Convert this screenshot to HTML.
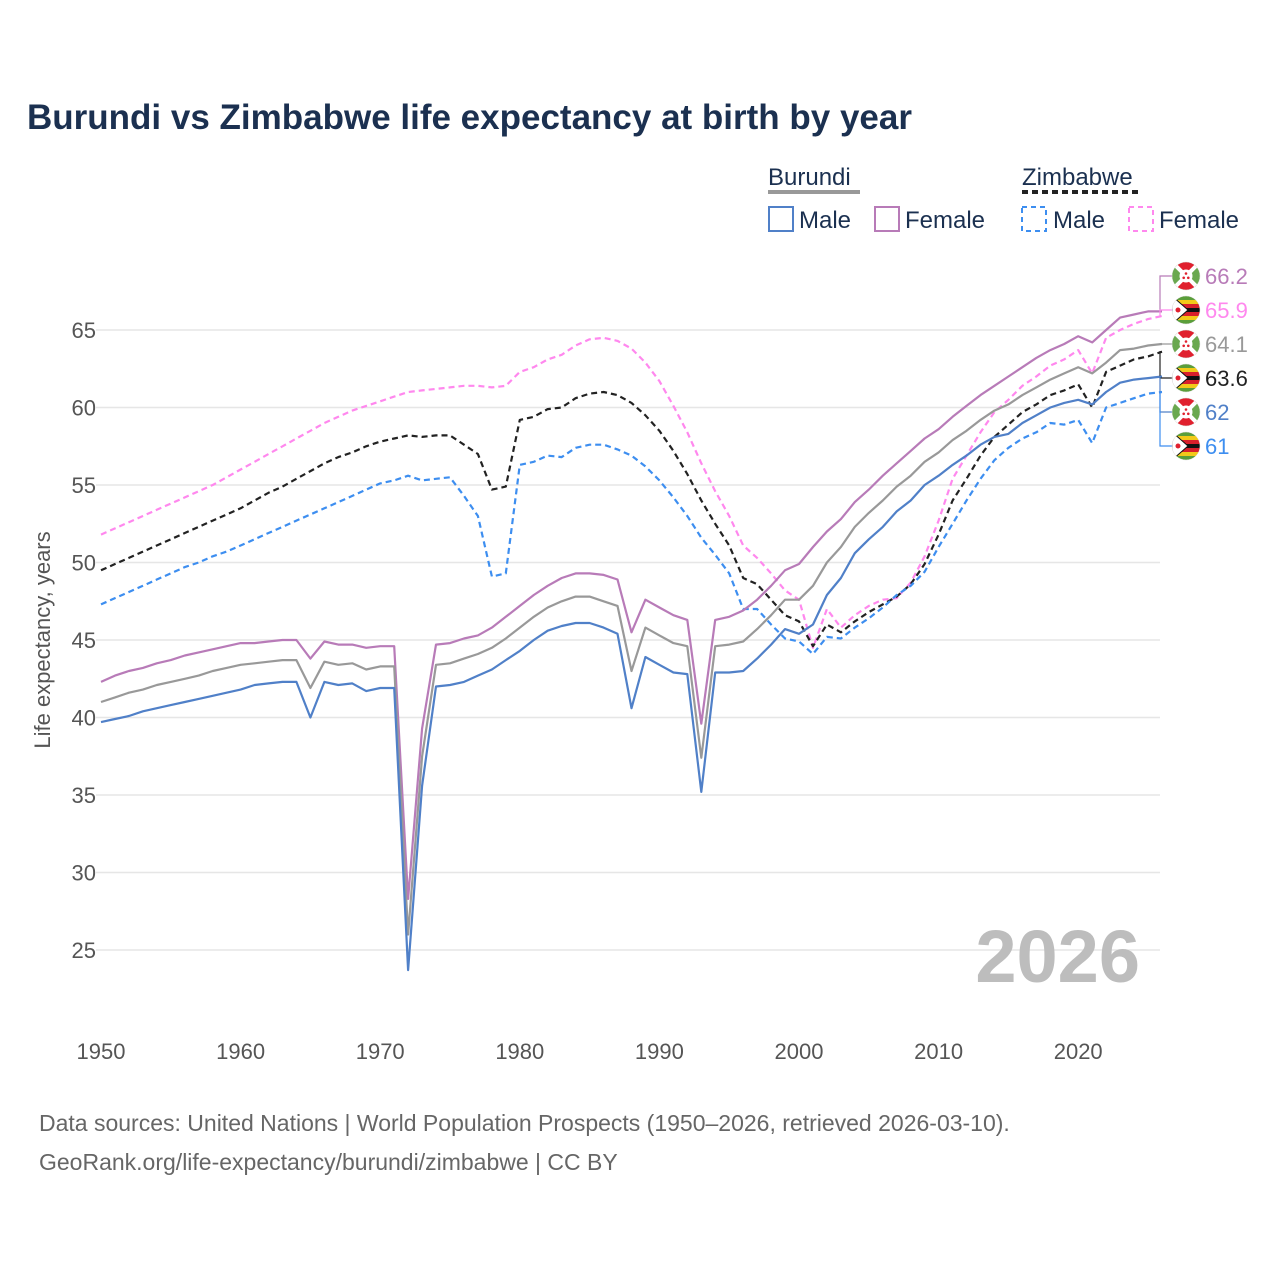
<!DOCTYPE html>
<html><head><meta charset="utf-8">
<style>
body{margin:0;background:#fff;width:1280px;height:1280px;overflow:hidden;font-family:"Liberation Sans",sans-serif}
svg text{font-family:"Liberation Sans",sans-serif}
</style></head>
<body>
<svg id="chart" width="1280" height="1280" xmlns="http://www.w3.org/2000/svg">
<defs>
<clipPath id="cc"><circle cx="0" cy="0" r="14"/></clipPath>
</defs>
<text x="27" y="129" font-size="35" font-weight="bold" fill="#1b3050">Burundi vs Zimbabwe life expectancy at birth by year</text>
<g font-size="24" fill="#1b3050">
<text x="768" y="185" fill="#1b3050">Burundi</text>
<rect x="768" y="190" width="92" height="4" fill="#999"/>
<text x="1022" y="185" fill="#1b3050">Zimbabwe</text>
<line x1="1022" y1="192" x2="1142" y2="192" stroke="#222" stroke-width="4" stroke-dasharray="6,4"/>
<g><rect x="769" y="207" width="24" height="24" fill="none" stroke="#5080c8" stroke-width="2"/><text x="799" y="228" fill="#1b3050">Male</text></g>
<g><rect x="875" y="207" width="24" height="24" fill="none" stroke="#b87bb8" stroke-width="2"/><text x="905" y="228" fill="#1b3050">Female</text></g>
<g><rect x="1022" y="207" width="24" height="24" fill="none" stroke="#3d8ef0" stroke-width="2" stroke-dasharray="5,4"/><text x="1053" y="228" fill="#1b3050">Male</text></g>
<g><rect x="1129" y="207" width="24" height="24" fill="none" stroke="#ff88ee" stroke-width="2" stroke-dasharray="5,4"/><text x="1159" y="228" fill="#1b3050">Female</text></g>
</g>
<g id="grid"></g>
<g id="axes"></g>
<text x="1140" y="982" text-anchor="end" font-size="74" font-weight="bold" fill="#bdbdbd">2026</text>
<g id="series"></g>
<g id="labels"></g>
<text transform="translate(50,640) rotate(-90)" text-anchor="middle" font-size="22" fill="#555">Life expectancy, years</text>
<text x="39" y="1131" font-size="23" fill="#666">Data sources: United Nations | World Population Prospects (1950–2026, retrieved 2026-03-10).</text>
<text x="39" y="1170" font-size="23" fill="#666">GeoRank.org/life-expectancy/burundi/zimbabwe | CC BY</text>
</svg>
<script>
const yTicks=[25,30,35,40,45,50,55,60,65];
const xTicks=[1950,1960,1970,1980,1990,2000,2010,2020];
const startYear=1950;
const burundiMale=[39.7,39.9,40.1,40.4,40.6,40.8,41.0,41.2,41.4,41.6,
41.8,42.1,42.2,42.3,42.3,40.0,42.3,42.1,42.2,41.7,
41.9,41.9,23.7,35.6,42.0,42.1,42.3,42.7,43.1,43.7,
44.3,45.0,45.6,45.9,46.1,46.1,45.8,45.4,40.6,43.9,
43.4,42.9,42.8,35.2,42.9,42.9,43.0,43.8,44.7,45.7,
45.4,46.0,47.9,49.0,50.6,51.5,52.3,53.3,54.0,55.0,
55.6,56.3,56.9,57.6,58.1,58.3,59.0,59.5,60.0,60.3,
60.5,60.2,61.0,61.6,61.8,61.9,62.0];
const burundiFemale=[42.3,42.7,43.0,43.2,43.5,43.7,44.0,44.2,44.4,44.6,
44.8,44.8,44.9,45.0,45.0,43.8,44.9,44.7,44.7,44.5,
44.6,44.6,28.3,39.3,44.7,44.8,45.1,45.3,45.8,46.5,
47.2,47.9,48.5,49.0,49.3,49.3,49.2,48.9,45.5,47.6,
47.1,46.6,46.3,39.6,46.3,46.5,46.9,47.6,48.5,49.5,
49.9,51.0,52.0,52.8,53.9,54.7,55.6,56.4,57.2,58.0,
58.6,59.4,60.1,60.8,61.4,62.0,62.6,63.2,63.7,64.1,
64.6,64.2,65.0,65.8,66.0,66.2,66.2];
const burundiTotal=[41.0,41.3,41.6,41.8,42.1,42.3,42.5,42.7,43.0,43.2,
43.4,43.5,43.6,43.7,43.7,41.9,43.6,43.4,43.5,43.1,
43.3,43.3,26.0,37.5,43.4,43.5,43.8,44.1,44.5,45.1,
45.8,46.5,47.1,47.5,47.8,47.8,47.5,47.2,43.0,45.8,
45.3,44.8,44.6,37.4,44.6,44.7,44.9,45.7,46.6,47.6,
47.6,48.5,50.0,51.0,52.3,53.2,54.0,54.9,55.6,56.5,
57.1,57.9,58.5,59.2,59.8,60.2,60.8,61.3,61.8,62.2,
62.6,62.2,62.9,63.7,63.8,64.0,64.1];
const zimMale=[47.3,47.7,48.1,48.5,48.9,49.3,49.7,50.0,50.4,50.7,
51.1,51.5,51.9,52.3,52.7,53.1,53.5,53.9,54.3,54.7,
55.1,55.3,55.6,55.3,55.4,55.5,54.3,53.0,49.1,49.3,
56.3,56.5,56.9,56.8,57.4,57.6,57.6,57.3,56.9,56.2,
55.3,54.2,53.0,51.6,50.5,49.3,47.0,47.0,46.0,45.1,
44.9,44.1,45.2,45.1,45.8,46.4,47.1,47.9,48.5,49.4,
51.0,52.5,54.0,55.4,56.6,57.4,58.0,58.4,59.0,58.9,
59.2,57.7,60.0,60.3,60.6,60.9,61.0];
const zimFemale=[51.8,52.2,52.6,53.0,53.4,53.8,54.2,54.6,55.0,55.5,
56.0,56.5,57.0,57.5,58.0,58.5,59.0,59.4,59.8,60.1,
60.4,60.7,61.0,61.1,61.2,61.3,61.4,61.4,61.3,61.4,
62.3,62.6,63.1,63.4,64.0,64.4,64.5,64.3,63.8,62.9,
61.7,60.1,58.4,56.4,54.6,53.0,51.1,50.3,49.3,48.2,
47.6,44.5,47.0,45.8,46.6,47.2,47.6,47.7,48.7,50.4,
52.7,55.4,56.9,58.4,59.7,60.5,61.4,62.0,62.7,63.1,
63.7,62.2,64.5,65.0,65.4,65.7,65.9];
const zimTotal=[49.5,49.9,50.3,50.7,51.1,51.5,51.9,52.3,52.7,53.1,
53.5,54.0,54.5,54.9,55.4,55.9,56.4,56.8,57.1,57.5,
57.8,58.0,58.2,58.1,58.2,58.2,57.6,57.0,54.7,54.9,
59.2,59.4,59.9,60.0,60.6,60.9,61.0,60.8,60.3,59.5,
58.5,57.2,55.7,54.0,52.5,51.1,49.0,48.6,47.6,46.6,
46.2,44.6,46.0,45.5,46.2,46.8,47.3,47.8,48.6,49.9,
51.8,54.0,55.4,56.9,58.1,58.9,59.7,60.2,60.8,61.1,
61.5,60.0,62.3,62.7,63.1,63.3,63.6];

const NS='http://www.w3.org/2000/svg';
const xs=y=>101+(y-1950)*13.96;
const ys=v=>330+(65-v)*15.5;
function mk(tag,attrs,parent){const e=document.createElementNS(NS,tag);for(const k in attrs)e.setAttribute(k,attrs[k]);parent.appendChild(e);return e;}
const grid=document.getElementById('grid'),axes=document.getElementById('axes'),ser=document.getElementById('series'),lab=document.getElementById('labels');
yTicks.forEach(t=>{
 const l=mk('line',{x1:96,x2:1160,y1:ys(t),y2:ys(t),stroke:'#e6e6e6','stroke-width':1.5},grid);
 
 
 const tx=mk('text',{x:96,y:ys(t)+8,'text-anchor':'end','font-size':22,fill:'#555'},axes);
 tx.textContent=t;
 
 
});
xTicks.forEach(t=>{
 const tx=mk('text',{x:xs(t),y:1059,'text-anchor':'middle','font-size':22,fill:'#555'},axes);
 tx.textContent=t;
 
 
});
const series=[
 {n:'zimbabwe-female',d:zimFemale,c:'#ff88ee',dash:'6,4',flag:'zw',lc:'#ff88ee'},
 {n:'zimbabwe-total',d:zimTotal,c:'#222',dash:'6,4',flag:'zw',lc:'#222'},
 {n:'zimbabwe-male',d:zimMale,c:'#3d8ef0',dash:'6,4',flag:'zw',lc:'#3d8ef0'},
 {n:'burundi-female',d:burundiFemale,c:'#b87bb8',dash:null,flag:'bi',lc:'#b87bb8'},
 {n:'burundi-total',d:burundiTotal,c:'#999',dash:null,flag:'bi',lc:'#999'},
 {n:'burundi-male',d:burundiMale,c:'#5080c8',dash:null,flag:'bi',lc:'#5080c8'}
];
series.forEach(s=>{
 const pts=s.d.map((v,i)=>xs(startYear+i).toFixed(1)+','+ys(v).toFixed(1)).join(' ');
 const a={points:pts,fill:'none',stroke:s.c,'stroke-width':2.2,'stroke-linejoin':'round'};
 if(s.dash)a['stroke-dasharray']=s.dash;
 const p=mk('polyline',a,ser);
 
 
});
// end labels sorted by value
const ord=series.slice().sort((a,b)=>b.d[b.d.length-1]-a.d[a.d.length-1]);
ord.forEach((s,i)=>{
 const v=s.d[s.d.length-1];
 const ly=276+i*34;
 const ex=xs(startYear+s.d.length-1);
 const c=mk('path',{d:`M${ex} ${ys(v)} H1160 V${ly} H1172`,fill:'none',stroke:s.c,'stroke-width':1.2},lab);
 
 
 const g=mk('g',{transform:`translate(1186,${ly})`},lab);
 
 
 const gg=mk('g',{'clip-path':'url(#cc)'},g);
 if(s.flag==='bi'){
  mk('rect',{x:-14,y:-14,width:28,height:28,fill:'#6aa84f'},gg);
  mk('polygon',{points:'-14,-14 14,-14 0,0',fill:'#e0202e'},gg);
  mk('polygon',{points:'-14,14 14,14 0,0',fill:'#e0202e'},gg);
  mk('line',{x1:-14,y1:-14,x2:14,y2:14,stroke:'#fff','stroke-width':4},gg);
  mk('line',{x1:14,y1:-14,x2:-14,y2:14,stroke:'#fff','stroke-width':4},gg);
  mk('circle',{cx:0,cy:0,r:6.5,fill:'#fff'},gg);
  mk('circle',{cx:0,cy:-2.5,r:1.3,fill:'#e0202e'},gg);
  mk('circle',{cx:-2.3,cy:1.8,r:1.3,fill:'#e0202e'},gg);
  mk('circle',{cx:2.3,cy:1.8,r:1.3,fill:'#e0202e'},gg);
 }else{
  const cols=['#5a9e3a','#f2c919','#d8202b','#111','#d8202b','#f2c919','#5a9e3a'];
  cols.forEach((cl,k)=>mk('rect',{x:-14,y:-14+k*4,width:28,height:4.1,fill:cl},gg));
  mk('polygon',{points:'-14,-14 2,0 -14,14',fill:'#fff',stroke:'#111','stroke-width':1},gg);
  mk('circle',{cx:-8,cy:0,r:2.5,fill:'#e0202e'},gg);
 }
 mk('circle',{cx:0,cy:0,r:14,fill:'none',stroke:'#ddd','stroke-width':0.5},g);
 const t=mk('text',{x:1205,y:ly+8,'font-size':22,fill:s.lc},lab);
 t.textContent=String(v);
 
 
});
</script>
</body></html>
